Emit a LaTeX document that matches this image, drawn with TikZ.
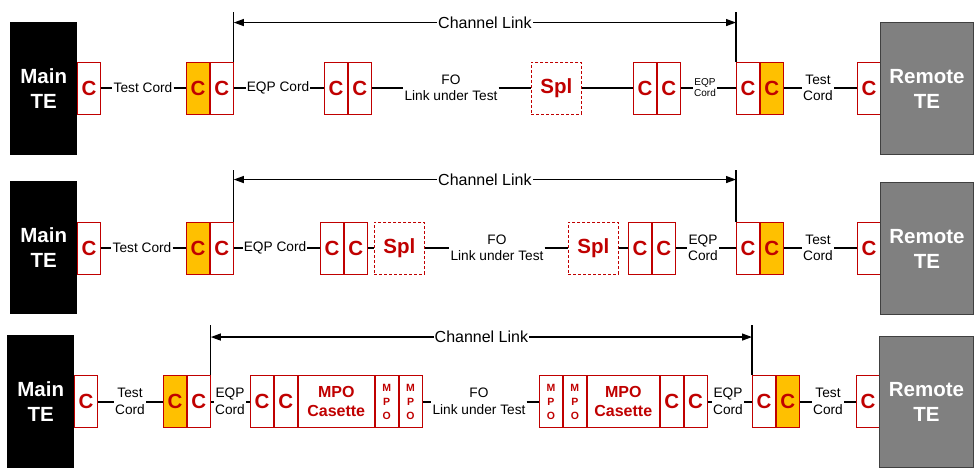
\documentclass[tikz,border=0pt]{standalone}
\usepackage{fontspec}
\setmainfont{Liberation Sans}
\usetikzlibrary{positioning,arrows.meta}
\definecolor{connred}{RGB}{192,0,0}
\definecolor{connorange}{RGB}{255,192,0}
\definecolor{remgray}{RGB}{128,128,128}
\definecolor{remedge}{RGB}{64,64,64}

\begin{document}
\begin{tikzpicture}[
  x=1pt, y=-1pt,
  conn/.style={draw=connred, line width=0.9pt, fill=white, text=connred, inner sep=0pt, anchor=west,
    minimum width=23pt, minimum height=52pt, font=\bfseries\fontsize{20.5}{24}\selectfont},
  orangeconn/.style={conn, fill=connorange},
  splbox/.style={conn, densely dashed, line width=0.7pt, minimum width=50pt},
  mpobox/.style={conn, align=center, font=\bfseries\fontsize{16}{19.5}\selectfont},
  mposmall/.style={conn, align=center, font=\bfseries\fontsize{10.5}{14}\selectfont},
  tebox/.style={anchor=north west, inner sep=0pt, text=white, align=center, minimum height=133pt,
    font=\bfseries\fontsize{20.5}{25}\selectfont},
  cord/.style={inner sep=1pt, align=center, font=\fontsize{13.7}{16.5}\selectfont},
  smallcord/.style={cord, font=\fontsize{10}{11}\selectfont},
  wire/.style={line width=2pt},
  limit/.style={line width=1.2pt},
  chanarrow/.style={{Triangle[length=10pt,width=7pt]}-{Triangle[length=10pt,width=7pt]}, line width=1.2pt},
  chanlabel/.style={fill=white, inner sep=1pt, font=\fontsize{16}{18}\selectfont}
]
\useasboundingbox (0,0) rectangle (979,473);

% row 1: one splitter
\node[tebox, fill=black, minimum width=67pt] (mainA) at (10,22) {Main\\TE};
\node[conn] (a1) at (77,88) {C};
\node[cord] (a1cord) at (143,88) {Test Cord};
\node[orangeconn] (a2) at (186,88) {C};
\node[conn, right=0pt of a2] (a3) {C};
\node[cord] (a3cord) at (278,88) {EQP Cord};
\node[conn] (a4) at (324,88) {C};
\node[conn, right=0pt of a4] (a5) {C};
\node[cord] (afo) at (451,88) {FO\\Link under Test};
\node[splbox] (aspl) at (531,88) {Spl};
\node[conn] (a6) at (633,88) {C};
\node[conn, right=0pt of a6] (a7) {C};
\node[smallcord] (a7cord) at (705,88) {EQP\\Cord};
\node[conn] (a8) at (736,88) {C};
\node[orangeconn, right=0pt of a8] (a9) {C};
\node[cord] (a9cord) at (818,88) {Test\\Cord};
\node[conn] (a10) at (857,88) {C};
\node[tebox, fill=remgray, draw=remedge, line width=1pt, minimum width=93pt, minimum height=132pt] (remA) at (880,22) {Remote\\TE};

\draw[wire] (a1) -- (a1cord);
\draw[wire] (a1cord) -- (a2);
\draw[wire] (a3) -- (a3cord);
\draw[wire] (a3cord) -- (a4);
\draw[wire] (a5) -- (afo);
\draw[wire] (afo) -- (aspl);
\draw[wire] (aspl) -- (a6);
\draw[wire] (a7) -- (a7cord);
\draw[wire] (a7cord) -- (a8);
\draw[wire] (a9) -- (a9cord);
\draw[wire] (a9cord) -- (a10);

\draw[limit] (a3.north east) -- ++(0,-50);
\draw[limit] (a8.north west) -- ++(0,-50);
\coordinate (achL) at ([yshift=39pt]a3.north east);
\coordinate (achR) at ([yshift=39pt]a8.north west);
\draw[chanarrow] (achL) -- node[chanlabel] {Channel Link} (achR);

% row 2: two splitters
\node[tebox, fill=black, minimum width=67pt] (mainB) at (10,181) {Main\\TE};
\node[conn] (b1) at (77,248) {C};
\node[cord] (b1cord) at (142,248) {Test Cord};
\node[orangeconn] (b2) at (186,248) {C};
\node[conn, right=0pt of b2] (b3) {C};
\node[cord] (b3cord) at (275,248) {EQP Cord};
\node[conn] (b4) at (320,248) {C};
\node[conn, right=0pt of b4] (b5) {C};
\node[splbox] (bspl1) at (374,248) {Spl};
\node[cord] (bfo) at (497,248) {FO\\Link under Test};
\node[splbox] (bspl2) at (568,248) {Spl};
\node[conn] (b6) at (628,248) {C};
\node[conn, right=0pt of b6] (b7) {C};
\node[cord] (b7cord) at (703,248) {EQP\\Cord};
\node[conn] (b8) at (736,248) {C};
\node[orangeconn, right=0pt of b8] (b9) {C};
\node[cord] (b9cord) at (818,248) {Test\\Cord};
\node[conn] (b10) at (857,248) {C};
\node[tebox, fill=remgray, draw=remedge, line width=1pt, minimum width=93pt, minimum height=132pt] (remB) at (880,182) {Remote\\TE};

\draw[wire] (b1) -- (b1cord);
\draw[wire] (b1cord) -- (b2);
\draw[wire] (b3) -- (b3cord);
\draw[wire] (b3cord) -- (b4);
\draw[wire] (b5) -- (bspl1);
\draw[wire] (bspl1) -- (bfo);
\draw[wire] (bfo) -- (bspl2);
\draw[wire] (bspl2) -- (b6);
\draw[wire] (b7) -- (b7cord);
\draw[wire] (b7cord) -- (b8);
\draw[wire] (b9) -- (b9cord);
\draw[wire] (b9cord) -- (b10);

\draw[limit] (b3.north east) -- ++(0,-52);
\draw[limit] (b8.north west) -- ++(0,-52);
\coordinate (bchL) at ([yshift=42pt]b3.north east);
\coordinate (bchR) at ([yshift=42pt]b8.north west);
\draw[chanarrow] (bchL) -- node[chanlabel] {Channel Link} (bchR);

% row 3: MPO casettes
\node[tebox, fill=black, minimum width=67pt] (mainC) at (7,335) {Main\\TE};
\node[conn] (c1) at (74,401.5) {C};
\node[cord] (c1cord) at (130,401.5) {Test\\Cord};
\node[orangeconn] (c2) at (163,401.5) {C};
\node[conn, right=0pt of c2] (c3) {C};
\node[cord] (c3cord) at (230,401.5) {EQP\\Cord};
\node[conn] (c4) at (250,401.5) {C};
\node[conn, right=0pt of c4] (c5) {C};
\node[mpobox, minimum width=76pt, right=0pt of c5] (cmpo1) {MPO\\Casette};
\node[mposmall, right=0pt of cmpo1] (cm1) {M\\P\\O};
\node[mposmall, right=0pt of cm1] (cm2) {M\\P\\O};
\node[cord] (cfo) at (479,401.5) {FO\\Link under Test};
\node[mposmall] (cm3) at (539,401.5) {M\\P\\O};
\node[mposmall, right=0pt of cm3] (cm4) {M\\P\\O};
\node[mpobox, minimum width=72pt, right=0pt of cm4] (cmpo2) {MPO\\Casette};
\node[conn, right=0pt of cmpo2] (c6) {C};
\node[conn, right=0pt of c6] (c7) {C};
\node[cord] (c7cord) at (728,401.5) {EQP\\Cord};
\node[conn] (c8) at (752,401.5) {C};
\node[orangeconn, right=0pt of c8] (c9) {C};
\node[cord] (c9cord) at (828,401.5) {Test\\Cord};
\node[conn] (c10) at (856,401.5) {C};
\node[tebox, fill=remgray, draw=remedge, line width=1pt, minimum width=94pt, minimum height=131pt] (remC) at (879,336) {Remote\\TE};

\draw[wire] (c1) -- (c1cord);
\draw[wire] (c1cord) -- (c2);
\draw[wire] (c3) -- (c3cord);
\draw[wire] (c3cord) -- (c4);
\draw[wire] (cm2) -- (cfo);
\draw[wire] (cfo) -- (cm3);
\draw[wire] (c7) -- (c7cord);
\draw[wire] (c7cord) -- (c8);
\draw[wire] (c9) -- (c9cord);
\draw[wire] (c9cord) -- (c10);

\draw[limit] (c3.north east) -- ++(0,-50);
\draw[limit] (c8.north west) -- ++(0,-50);
\coordinate (cchL) at ([yshift=38pt]c3.north east);
\coordinate (cchR) at ([yshift=38pt]c8.north west);
\draw[chanarrow] (cchL) -- node[chanlabel] {Channel Link} (cchR);
\end{tikzpicture}
\end{document}
